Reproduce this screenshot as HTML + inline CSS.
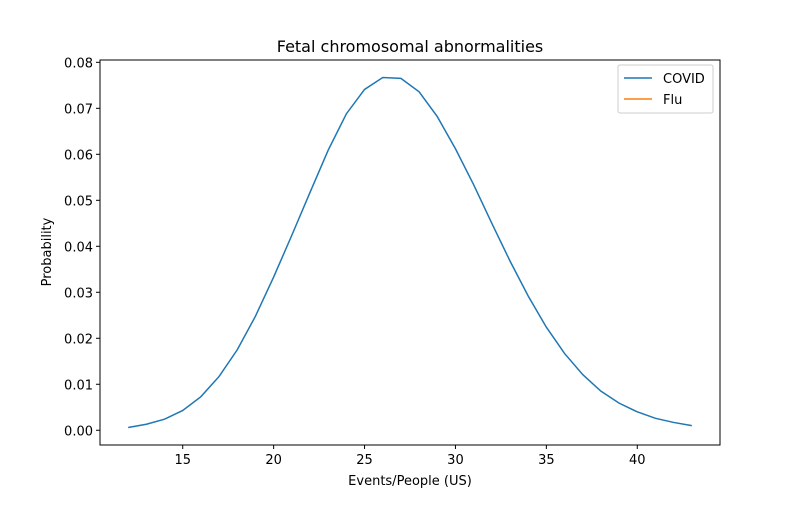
<!DOCTYPE html>
<html><head><meta charset="utf-8"><style>
body{margin:0;background:#fff;}
svg text{font-family:"DejaVu Sans","Liberation Sans",sans-serif;}
</style></head><body>
<svg id="chart" width="800" height="500" xmlns="http://www.w3.org/2000/svg">
<rect width="800" height="500" fill="#fff"/>
<text x="410" y="52" font-size="16" text-anchor="middle" fill="#000">Fetal chromosomal abnormalities</text>
<g id="plot"></g>
<rect x="100" y="60" width="620" height="385" fill="none" stroke="#000" stroke-width="1"/>
<text x="410" y="485" font-size="13" text-anchor="middle">Events/People (US)</text>
<text x="51" y="252" font-size="13" text-anchor="middle" transform="rotate(-90 51 252)">Probability</text>
<g>
<rect x="618" y="65" width="95" height="48" rx="2" fill="#fff" stroke="#ccc"/>
<g><line x1="624" y1="78" x2="652" y2="78" stroke="#1f77b4" stroke-width="1.5"/><text x="663" y="83" font-size="13">COVID</text></g>
<g><line x1="624" y1="99" x2="652" y2="99" stroke="#ff7f0e" stroke-width="1.5"/><text x="663" y="104" font-size="13">Flu</text></g>
</g>
</svg>
<script>
const xValues=[12,13,14,15,16,17,18,19,20,21,22,23,24,25,26,27,28,29,30,31,32,33,34,35,36,37,38,39,40,41,42,43];
const covidValues=[0.0006,0.0013,0.0024,0.0043,0.0073,0.0117,0.0175,0.0248,0.0333,0.0424,0.0517,0.0609,0.0688,0.0741,0.0767,0.0765,0.0736,0.0682,0.0612,0.0534,0.0450,0.0368,0.0292,0.0224,0.0167,0.0121,0.0085,0.0059,0.0040,0.0026,0.0017,0.0010];
const fluValues=[];
const xTicks=[15,20,25,30,35,40];
const yTicks=[0,0.01,0.02,0.03,0.04,0.05,0.06,0.07,0.08];
const yTickLabels=["0.00","0.01","0.02","0.03","0.04","0.05","0.06","0.07","0.08"];
const NS="http://www.w3.org/2000/svg";
const L=100,R=720,T=60,B=445;
const xmin=Math.min(...xValues),xmax=Math.max(...xValues);
const ymin0=Math.min(...covidValues),ymax0=Math.max(...covidValues);
const xp=(xmax-xmin)*0.05,yp=(ymax0-ymin0)*0.05;
const X0=xmin-xp,X1=xmax+xp,Y0=ymin0-yp,Y1=ymax0+yp;
const sx=v=>L+(v-X0)/(X1-X0)*(R-L);
const sy=v=>B-(v-Y0)/(Y1-Y0)*(B-T);
const g=document.getElementById('plot');
function mk(t,a){const e=document.createElementNS(NS,t);for(const k in a)e.setAttribute(k,a[k]);g.appendChild(e);return e;}
xTicks.forEach(v=>{
const l=mk('line',{x1:sx(v),x2:sx(v),y1:B,y2:B+4,stroke:'#000'});


const t=mk('text',{x:sx(v),y:B+19,'font-size':13,'text-anchor':'middle'});t.textContent=v;


});
yTicks.forEach((v,i)=>{
const l=mk('line',{x1:L-4,x2:L,y1:sy(v),y2:sy(v),stroke:'#000'});


const t=mk('text',{x:L-7,y:sy(v)+5,'font-size':13,'text-anchor':'end'});t.textContent=yTickLabels[i];


});
const p=mk('polyline',{points:xValues.map((x,i)=>sx(x)+','+sy(covidValues[i])).join(' '),fill:'none',stroke:'#1f77b4','stroke-width':1.5});


if(fluValues.length){const f=mk('polyline',{points:fluValues.map((y,i)=>sx(xValues[i])+','+sy(y)).join(' '),fill:'none',stroke:'#ff7f0e','stroke-width':1.5});

}
</script>
</body></html>
